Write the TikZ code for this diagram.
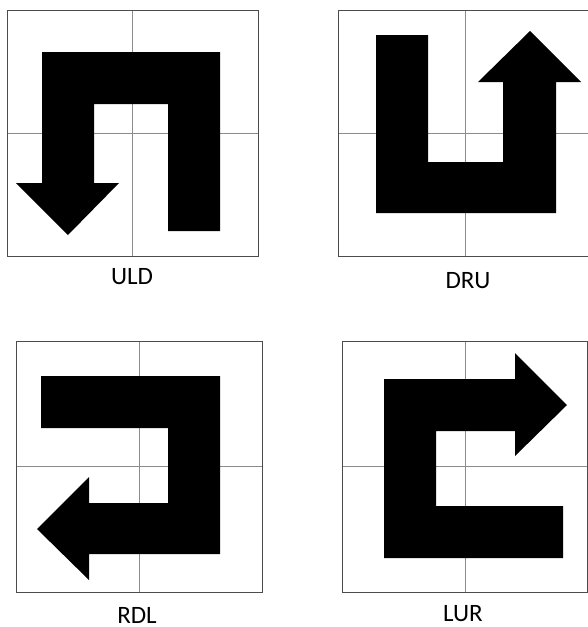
\documentclass[tikz,border=0pt]{standalone}
\usepackage{fontspec}
\setmainfont{Carlito}
\begin{document}
\begin{tikzpicture}[x=1pt,y=-1pt,
  frame/.style={draw=black!70,line width=1pt},
  gridline/.style={draw=black!45,line width=1pt},
  arrowshape/.style={fill=black,draw=none},
  lbl/.style={font=\fontsize{25}{29}\selectfont,inner sep=0pt}]
\useasboundingbox (0,0) rectangle (588,627);
\clip (0,0) rectangle (588,627);
% panel 1 ULD
\draw[gridline] (132,10) -- (132,256) (7,133) -- (258,133);
\draw[frame] (7,10) rectangle (258,256);
\fill[arrowshape] (42,52) -- (220,52) -- (220,231) -- (168,231) -- (168,104) -- (94,104) -- (94,183) -- (119,183) -- (68,235) -- (16,183) -- (42,183) -- cycle;
\node[lbl] (uld) at (132,277) {ULD};
% panel 2 DRU
\draw[gridline] (465,10) -- (465,256) (338,133) -- (589,133);
\draw[frame] (338,10) rectangle (589,256);
\fill[arrowshape] (376,35) -- (428,35) -- (428,162) -- (503,162) -- (503,82) -- (478,82) -- (530,31) -- (581,82) -- (556,82) -- (556,213) -- (376,213) -- cycle;
\node[lbl] (dru) at (468,281) {DRU};
% panel 3 RDL
\draw[gridline] (139,341) -- (139,592) (16,466) -- (262,466);
\draw[frame] (16,341) rectangle (262,592);
\fill[arrowshape] (41,376) -- (220,376) -- (220,554) -- (89,554) -- (89,580) -- (37,529) -- (89,477) -- (89,503) -- (168,503) -- (168,428) -- (41,428) -- cycle;
\node[lbl] (rdl) at (137,615) {RDL};
% panel 4 LUR
\draw[gridline] (465,341) -- (465,592) (342,466) -- (587,466);
\draw[frame] (342,341) rectangle (587,592);
\fill[arrowshape] (384,379) -- (515,379) -- (515,353) -- (567,405) -- (515,456) -- (515,431) -- (436,431) -- (436,506) -- (563,506) -- (563,558) -- (384,558) -- cycle;
\node[lbl] (lur) at (463,614) {LUR};
\end{tikzpicture}
\end{document}
